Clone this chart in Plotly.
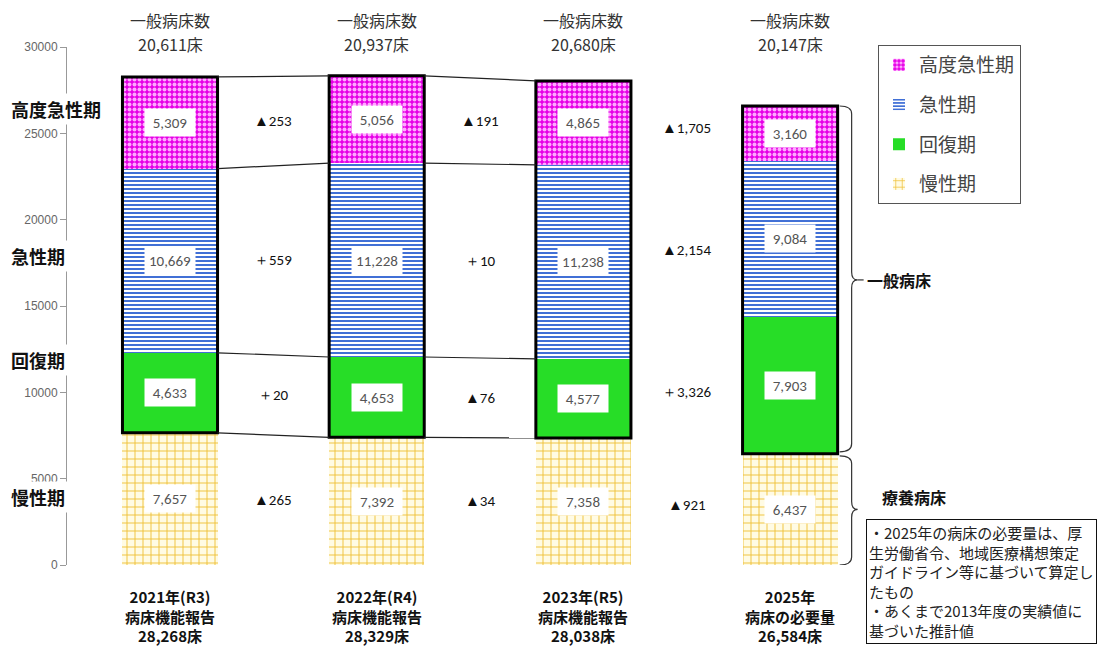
import plotly.graph_objects as go

# ---------------- data ----------------
periods = ["2021年(R3)", "2022年(R4)", "2023年(R5)", "2025年"]
subtitles = ["病床機能報告", "病床機能報告", "病床機能報告", "病床の必要量"]
phases = ["慢性期", "回復期", "急性期", "高度急性期"]  # bottom -> top
chronic = [7657, 7392, 7358, 6437]
recovery = [4633, 4653, 4577, 7903]
acute = [10669, 11228, 11238, 9084]
high_acute = [5309, 5056, 4865, 3160]
y_ticks = [0, 5000, 10000, 15000, 20000, 25000, 30000]
note_lines = [
    "・2025年の病床の必要量は、厚",
    "生労働省令、地域医療構想策定",
    "ガイドライン等に基づいて算定し",
    "たもの",
    "・あくまで2013年度の実績値に",
    "基づいた推計値",
]

series = [chronic, recovery, acute, high_acute]
xs = list(range(len(periods)))
BW = 0.46
JP = "Noto Sans CJK JP"
NUM = "Calibri, Carlito, Liberation Sans, Arial"

styles = {
    "慢性期": dict(shape="+", fgcolor="#efc138", bgcolor="#fffbe4", size=8, solidity=0.22),
    "回復期": dict(shape="", fgcolor="#27dd27", bgcolor="#27dd27"),
    "急性期": dict(shape="-", fgcolor="#4170d6", bgcolor="#ffffff", size=4, solidity=0.5),
    "高度急性期": dict(shape=".", fgcolor="#ffa8ff", bgcolor="#e600e6", size=5, solidity=0.5),
}

fig = go.Figure()
for k, (name, vals) in enumerate(zip(phases, series)):
    st = styles[name]
    if st["shape"]:
        marker = dict(color=st["bgcolor"], line=dict(width=0),
                      pattern=dict(shape=st["shape"], fgcolor=st["fgcolor"], bgcolor=st["bgcolor"],
                                   size=st["size"], solidity=st["solidity"], fillmode="replace"))
    else:
        marker = dict(color=st["bgcolor"], line=dict(width=0))
    fig.add_trace(go.Bar(x=xs, y=vals, name=name, width=BW, marker=marker,
                         legendgroup=name, legendrank=len(phases) - k, hoverinfo="skip"))

# cumulative boundaries
bounds = []
acc = [0] * len(xs)
bounds.append(acc[:])
for vals in series:
    acc = [a + v for a, v in zip(acc, vals)]
    bounds.append(acc[:])
totals = bounds[-1]
general = [t - c for t, c in zip(totals, chronic)]

shapes = []
annotations = []

# thick outline around general beds (top three segments)
for i in xs:
    shapes.append(dict(type="rect", xref="x", yref="y", x0=i - BW / 2, x1=i + BW / 2,
                       y0=bounds[1][i], y1=totals[i], line=dict(color="black", width=3),
                       fillcolor="rgba(0,0,0,0)", layer="above"))

# connector lines between the first three bars
for i in range(2):
    for b in bounds[1:]:
        shapes.append(dict(type="line", xref="x", yref="y", x0=i + BW / 2, x1=i + 1 - BW / 2,
                           y0=b[i], y1=b[i + 1], line=dict(color="#222", width=1.2)))

# value labels inside segments
for k, vals in enumerate(series):
    for i in xs:
        mid = (bounds[k][i] + bounds[k + 1][i]) / 2
        annotations.append(dict(x=i, y=mid, xref="x", yref="y", yanchor="middle", text=f"{vals[i]:,}",
                                showarrow=False, font=dict(family=NUM, size=15, color="#555"),
                                bgcolor="white", width=50, height=27, borderpad=0))

# change labels between bars
for k, vals in enumerate(series):
    for i in range(3):
        d = vals[i + 1] - vals[i]
        txt = f"▲{abs(d):,}" if d < 0 else f"＋{d:,}"
        m1 = (bounds[k][i] + bounds[k + 1][i]) / 2
        m2 = (bounds[k][i + 1] + bounds[k + 1][i + 1]) / 2
        annotations.append(dict(x=i + 0.5, y=(m1 + m2) / 2, xref="x", yref="y", yanchor="middle", text=txt,
                                showarrow=False, font=dict(family=NUM, size=15, color="#111")))

# helper: pixel -> paper
L, R, T, B = 67, 0, 47, 85
PW, PH = 1112 - L - R, 650 - T - B
def px(p):
    return (p - L) / PW
def py(p):
    return (650 - B - p) / PH

# top labels
for i in xs:
    annotations.append(dict(x=i, y=py(20), xref="x", yref="paper", yanchor="middle",
                            text="一般病床数", showarrow=False,
                            font=dict(family=JP, size=16, color="#333")))
    annotations.append(dict(x=i, y=py(44), xref="x", yref="paper", yanchor="middle",
                            text=f"{general[i]:,}床", showarrow=False,
                            font=dict(family=JP, size=16, color="#333")))

# bottom labels
for i in xs:
    annotations.append(dict(x=i, y=py(616), xref="x", yref="paper", yanchor="middle",
                            text=f"<b>{periods[i]}</b><br><b>{subtitles[i]}</b><br><b>{totals[i]:,}床</b>",
                            showarrow=False, font=dict(family=JP, size=15, color="#111")))

# left category labels
for t, yy in [("高度急性期", 109), ("急性期", 256), ("回復期", 360), ("慢性期", 497)]:
    annotations.append(dict(x=px(8), y=py(yy), xref="paper", yref="paper", xanchor="left", yanchor="middle",
                            text=f"<b>{t}</b>", showarrow=False, bgcolor="white", borderpad=2,
                            font=dict(family=JP, size=18, color="#111")))

# braces on the right of the 2025 bar
ux = 1 / 206.7     # x data units per pixel
uy = 30000 / PH    # y data units per pixel
def brace(x0, ytop, ybot, ymid):
    x1 = x0 + 12 * ux
    x2 = x0 + 18 * ux
    r = 8 * uy
    return (f"M{x0},{ytop} Q{x1},{ytop} {x1},{ytop - r} L{x1},{ymid + r} Q{x1},{ymid} {x2},{ymid} "
            f"Q{x1},{ymid} {x1},{ymid - r} L{x1},{ybot + r} Q{x1},{ybot} {x0},{ybot}")

i4 = 3
bx = i4 + BW / 2 + 2 * ux
gmid = (totals[i4] + bounds[1][i4]) / 2
cmid = bounds[1][i4] / 2
shapes.append(dict(type="path", xref="x", yref="y", path=brace(bx, totals[i4], bounds[1][i4] + 2 * uy, gmid),
                   line=dict(color="#333", width=1.2)))
shapes.append(dict(type="path", xref="x", yref="y", path=brace(bx, bounds[1][i4] - 2 * uy, 0, cmid),
                   line=dict(color="#333", width=1.2)))
shapes.append(dict(type="line", xref="x", yref="y", x0=bx + 18 * ux, x1=bx + 24 * ux, y0=gmid, y1=gmid,
                   line=dict(color="#333", width=1.2)))
annotations.append(dict(x=bx + 25 * ux, y=gmid, xref="x", yref="y", xanchor="left", yanchor="middle",
                        text="<b>一般病床</b>", showarrow=False, font=dict(family=JP, size=16, color="#111")))
annotations.append(dict(x=px(880), y=py(497), xref="paper", yref="paper", xanchor="left", yanchor="middle",
                        text="<b>療養病床</b>", showarrow=False, font=dict(family=JP, size=16, color="#111")))

# note box
annotations.append(dict(x=px(866), y=py(519), xref="paper", yref="paper", xanchor="left", yanchor="top",
                        align="left", text="<br>".join(note_lines), showarrow=False,
                        bordercolor="#111", borderwidth=1, borderpad=2, bgcolor="white",
                        font=dict(family=JP, size=15, color="#222")))

fig.update_layout(
    width=1112, height=650,
    margin=dict(l=L, r=R, t=T, b=B),
    paper_bgcolor="white", plot_bgcolor="white",
    barmode="stack", bargap=0,
    shapes=shapes, annotations=annotations,
    xaxis=dict(range=[-(170 - L) / 206.7, (1112 - 170) / 206.7], visible=False, fixedrange=True),
    yaxis=dict(range=[0, 30000], tickvals=y_ticks, tickformat="d", showgrid=False, zeroline=False,
               showline=True, linecolor="#999", linewidth=1, ticks="outside", ticklen=6, tickcolor="#999",
               tickfont=dict(family="Arial, Liberation Sans", size=12, color="#666"), fixedrange=True),
    legend=dict(x=px(878), y=py(45), xanchor="left", yanchor="top", traceorder="grouped",
                tracegroupgap=12, bordercolor="#555", borderwidth=1, bgcolor="white",
                font=dict(family=JP, size=19, color="#444"), itemwidth=30),
    showlegend=True,
)

fig.write_html("out.html")
